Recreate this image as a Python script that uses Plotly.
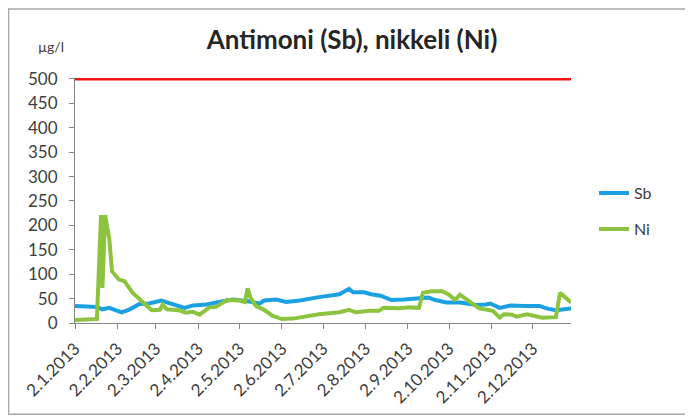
import plotly.graph_objects as go

# ---- data ----
sb_dates = ["2013-01-02","2013-01-13","2013-01-18","2013-01-22","2013-01-27","2013-02-05","2013-02-11",
            "2013-02-18","2013-02-25","2013-03-06","2013-03-10","2013-03-14","2013-03-23","2013-03-29",
            "2013-04-08","2013-04-17","2013-04-27","2013-05-07","2013-05-17","2013-05-20","2013-05-29",
            "2013-06-05","2013-06-15","2013-06-29","2013-07-07","2013-07-14","2013-07-21","2013-07-24",
            "2013-08-01","2013-08-06","2013-08-13","2013-08-21","2013-08-30","2013-09-10","2013-09-17",
            "2013-09-22","2013-09-30","2013-10-10","2013-10-15","2013-10-22","2013-10-29","2013-11-01",
            "2013-11-08","2013-11-16","2013-11-26","2013-12-07","2013-12-12","2013-12-16","2013-12-19",
            "2013-12-25","2013-12-30"]
sb_values = [35, 35, 33, 28, 31, 22, 28,
             39, 40, 46, 42, 39, 31, 36,
             38, 43, 48, 45, 40, 46, 48,
             43, 46, 53, 56, 59, 70, 63,
             63, 59, 56, 47, 48, 50, 52,
             47, 42, 42, 40, 37, 38, 40,
             31, 36, 35, 35, 30, 28, 26,
             28, 30]

ni_dates = ["2013-01-02","2013-01-15","2013-01-18","2013-01-21","2013-01-22","2013-01-24","2013-01-27",
            "2013-01-29","2013-02-03","2013-02-07","2013-02-13","2013-02-20","2013-02-27","2013-03-05",
            "2013-03-07","2013-03-10","2013-03-19","2013-03-24","2013-03-29","2013-04-03","2013-04-10",
            "2013-04-15","2013-04-23","2013-05-02","2013-05-06","2013-05-08","2013-05-10","2013-05-14",
            "2013-05-20","2013-05-26","2013-06-02","2013-06-10","2013-06-29","2013-07-14","2013-07-21",
            "2013-07-26","2013-08-05","2013-08-12","2013-08-15","2013-08-27","2013-09-03","2013-09-10",
            "2013-09-13","2013-09-19","2013-09-27","2013-10-02","2013-10-06","2013-10-08","2013-10-10",
            "2013-10-15","2013-10-19","2013-10-24","2013-11-03","2013-11-08","2013-11-11","2013-11-17",
            "2013-11-20","2013-11-28","2013-12-09","2013-12-19","2013-12-22","2013-12-30"]
ni_values = [6, 8, 8, 221, 72, 221, 173,
             106, 89, 86, 62, 44, 26, 27,
             38, 28, 26, 21, 23, 17, 32,
             33, 47, 46, 43, 71, 52, 35,
             27, 15, 8, 9, 18, 22, 27,
             22, 25, 25, 31, 30, 32, 31,
             62, 65, 65, 58, 48, 52, 58,
             48, 39, 30, 25, 11, 18, 17,
             13, 18, 11, 12, 62, 42]

limit_dates = ["2013-01-02", "2013-12-30"]
limit_values = [500, 500]

tick_dates = ["2013-01-02","2013-02-02","2013-03-02","2013-04-02","2013-05-02","2013-06-02",
              "2013-07-02","2013-08-02","2013-09-02","2013-10-02","2013-11-02","2013-12-02"]
tick_labels = ["2.1.2013","2.2.2013","2.3.2013","2.4.2013","2.5.2013","2.6.2013",
               "2.7.2013","2.8.2013","2.9.2013","2.10.2013","2.11.2013","2.12.2013"]
y_ticks = [0, 50, 100, 150, 200, 250, 300, 350, 400, 450, 500]

FONT = "Lato"
AXIS = "#868686"
TXT = "#404040"

# page has an 8px body margin: figure coords = page coords - 8
W, H = 685, 411
L, R, T, B = 67, 122, 70, 94
PW, PH = W - L - R, H - T - B


def px(xp):  # page x -> paper x
    return (xp - 8 - L) / PW


def py(yp):  # page y -> paper y
    return (H - B - (yp - 8)) / PH


fig = go.Figure()
fig.add_trace(go.Scatter(x=limit_dates, y=limit_values, mode="lines",
                         line=dict(color="#F01414", width=3), showlegend=False,
                         hoverinfo="skip"))
fig.add_trace(go.Scatter(x=sb_dates, y=sb_values, mode="lines", name="Sb",
                         legendgroup="sb", line=dict(color="#1BA1E2", width=4)))
fig.add_trace(go.Scatter(x=ni_dates, y=ni_values, mode="lines", name="Ni",
                         legendgroup="ni", line=dict(color="#8DC43F", width=4)))

fig.update_layout(
    width=W, height=H,
    margin=dict(l=L, r=R, t=T, b=B),
    paper_bgcolor="white", plot_bgcolor="white",
    font=dict(family=FONT, size=15, color=TXT),
    title=dict(text="<b>Antimoni (Sb), nikkeli (Ni)</b>", x=(352 - 8) / W, xanchor="center",
               y=1 - (40 - 8) / H, yanchor="middle", font=dict(family=FONT, size=26, color="#262626")),
    showlegend=True,
    legend=dict(x=px(594), xanchor="left", y=py(177), yanchor="top",
                traceorder="grouped", tracegroupgap=12,
                font=dict(family=FONT, size=16, color=TXT),
                bgcolor="rgba(0,0,0,0)"),
    xaxis=dict(type="date", range=["2013-01-02", "2013-12-30"],
               tickmode="array", tickvals=tick_dates, ticktext=tick_labels,
               tickangle=-45, showgrid=False, zeroline=False,
               showline=True, linecolor=AXIS, linewidth=1,
               ticks="outside", ticklen=5, tickcolor=AXIS, ticklabelstandoff=3,
               tickfont=dict(family=FONT, size=17, color=TXT)),
    yaxis=dict(range=[0, 502], tickmode="array", tickvals=y_ticks,
               showgrid=False, zeroline=False,
               showline=True, linecolor=AXIS, linewidth=1,
               ticks="outside", ticklen=5, tickcolor=AXIS, ticklabelstandoff=8,
               tickfont=dict(family=FONT, size=17, color=TXT)),
    annotations=[dict(text="µg/l", xref="paper", yref="paper",
                      x=px(51), y=py(46), xanchor="center",
                      yanchor="middle", showarrow=False,
                      font=dict(family=FONT, size=14, color=TXT))],
    shapes=[dict(type="rect", xref="paper", yref="paper",
                 x0=px(8.5), x1=px(720),
                 y0=py(417), y1=py(8.5),
                 line=dict(color="#A6A6A6", width=1.5), fillcolor="rgba(0,0,0,0)", layer="below")],
)

fig.write_html("out.html")
